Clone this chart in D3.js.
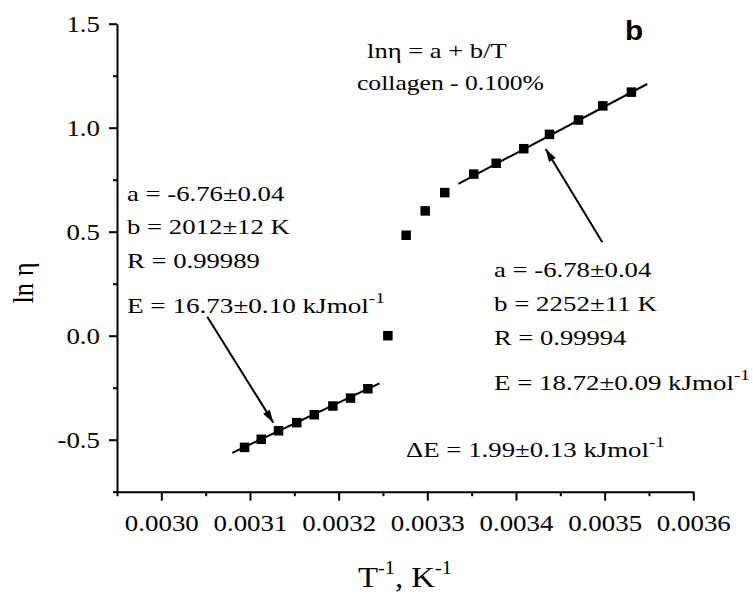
<!DOCTYPE html>
<html><head><meta charset="utf-8">
<script src="https://cdn.jsdelivr.net/npm/d3@7"></script>
<style>html,body{margin:0;padding:0;background:#fff;}svg{display:block;}</style>
</head><body><svg id="c" width="753" height="595"></svg>
<script>
// ---- data ----
const lowX  = [0.0030939, 0.0031127, 0.0031322, 0.0031528, 0.0031725, 0.0031935, 0.0032134, 0.0032329];
const lowY  = [-0.537, -0.498, -0.457, -0.418, -0.380, -0.338, -0.300, -0.255];
const midX  = [0.0032555, 0.0032761, 0.0032976, 0.0033197];
const midY  = [0.000, 0.483, 0.600, 0.688];
const highX = [0.0033524, 0.0033777, 0.0034088, 0.0034378, 0.0034705, 0.0034979, 0.0035302];
const highY = [0.777, 0.829, 0.899, 0.968, 1.037, 1.105, 1.171];
const fitLow  = {a: -6.76, b: 2012, x0: 0.00308, x1: 0.003246};
const fitHigh = {a: -6.78, b: 2252, x0: 0.003335, x1: 0.003548};
const xTicks = [0.0030, 0.0031, 0.0032, 0.0033, 0.0034, 0.0035, 0.0036];
const xTickLabels = ["0.0030", "0.0031", "0.0032", "0.0033", "0.0034", "0.0035", "0.0036"];
const yTicks = [-0.5, 0.0, 0.5, 1.0, 1.5];
const yTickLabels = ["-0.5", "0.0", "0.5", "1.0", "1.5"];
const arrowLow  = {x0: 0.0030518, y0: 0.091, x1: 0.0031263, y1: -0.418};
const arrowHigh = {x0: 0.0034974, y0: 0.449, x1: 0.0034335, y1: 0.898};

const svg = d3.select("#c");
const serif = "'Liberation Serif', Times, serif";
const x = d3.scaleLinear().domain([0.00295, 0.0036]).range([117, 693.3]);
const y = d3.scaleLinear().domain([-0.75, 1.5]).range([491.7, 23.7]);

// axes
const xMinor = d3.range(0, 14).map(i => 0.00295 + i * 0.00005).filter(v => !xTicks.some(t => Math.abs(t - v) < 1e-9));
const yMinor = d3.range(0, 10).map(i => -0.75 + i * 0.25).filter(v => !yTicks.some(t => Math.abs(t - v) < 1e-9));

const gx = svg.append("g").attr("transform", `translate(0,${y(-0.75)})`)
  .call(d3.axisBottom(x).tickValues(xTicks).tickFormat((d, i) => xTickLabels[i]).tickSize(9).tickSizeOuter(0).tickPadding(13));
const gxm = svg.append("g").attr("transform", `translate(0,${y(-0.75)})`)
  .call(d3.axisBottom(x).tickValues(xMinor).tickFormat("").tickSize(4.5).tickSizeOuter(0));
gxm.select(".domain").remove();
const gy = svg.append("g").attr("transform", `translate(${x(0.00295)},0)`)
  .call(d3.axisLeft(y).tickValues(yTicks).tickFormat((d, i) => yTickLabels[i]).tickSize(8).tickSizeOuter(0).tickPadding(9));
const gym = svg.append("g").attr("transform", `translate(${x(0.00295)},0)`)
  .call(d3.axisLeft(y).tickValues(yMinor).tickFormat("").tickSize(4).tickSizeOuter(0));
gym.select(".domain").remove();
[gx, gxm, gy, gym].forEach(g => {
  g.attr("font-family", serif);
  g.selectAll(".domain").attr("stroke", "#000").attr("stroke-width", 2);
  g.selectAll(".tick line").attr("stroke", "#000").attr("stroke-width", 2);
});
gx.selectAll(".tick text").attr("font-family", serif).attr("font-size", 24).attr("fill", "#000");
gy.selectAll(".tick text").attr("font-family", serif).attr("font-size", 24).attr("fill", "#000");
// horizontal stretch of tick labels so "0.0030" is ~74px wide, as in the reference
const w0 = gx.select(".tick text").node().getComputedTextLength();
const tsx = 74 / w0;
gx.selectAll(".tick text").attr("transform", `scale(${tsx},1)`);
gy.selectAll(".tick text").each(function(){
  const t = d3.select(this); const xx = +t.attr("x");
  t.attr("transform", `translate(${xx},0) scale(${tsx},1) translate(${-xx},0)`);
});

// fit lines
const line = d3.line().x(d => x(d[0])).y(d => y(d[1]));
[fitLow, fitHigh].forEach(f => {
  svg.append("path").datum([[f.x0, f.a + f.b * f.x0], [f.x1, f.a + f.b * f.x1]])
    .attr("d", line).attr("stroke", "#000").attr("stroke-width", 2).attr("fill", "none");
});

// points
const pts = [];
[[lowX, lowY], [midX, midY], [highX, highY]].forEach(([xs, ys]) => xs.forEach((v, i) => pts.push([v, ys[i]])));
const s = 9.5;
svg.append("g").selectAll("rect").data(pts).join("rect")
  .attr("x", d => x(d[0]) - s / 2).attr("y", d => y(d[1]) - s / 2)
  .attr("width", s).attr("height", s).attr("fill", "#000");

// arrows
svg.append("defs").append("marker").attr("id", "ah").attr("viewBox", "0 0 13 8")
  .attr("refX", 13).attr("refY", 4).attr("markerWidth", 13).attr("markerHeight", 8)
  .attr("markerUnits", "userSpaceOnUse").attr("orient", "auto")
  .append("path").attr("d", "M0,0 L13,4 L0,8 Z").attr("fill", "#000");
[arrowLow, arrowHigh].forEach(a => {
  svg.append("line").attr("x1", x(a.x0)).attr("y1", y(a.y0)).attr("x2", x(a.x1)).attr("y2", y(a.y1))
    .attr("stroke", "#000").attr("stroke-width", 2).attr("marker-end", "url(#ah)");
});

// text helper: serif text stretched horizontally to the width it has in the reference
function txt(tx, ty, parts, size, width) {
  const t = svg.append("text").attr("transform", `translate(${tx},${ty})`)
    .attr("font-family", serif).attr("font-size", size).attr("fill", "#000");
  parts.forEach(p => {
    if (typeof p === "string") t.append("tspan").text(p);
    else t.append("tspan").attr("font-size", p.size).attr("dy", p.dy).text(p.t);
  });
  const w = t.node().getBBox().width;
  t.attr("transform", `translate(${tx},${ty}) scale(${width / w},1)`);
  return t;
}
const sup = (t) => ({t, size: 15, dy: -10});

txt(367, 58, ["lnη = a + b/T"], 21, 140);
txt(357, 90, ["collagen - 0.100%"], 21, 187);

txt(127, 201, ["a = -6.76±0.04"], 21, 158);
txt(127, 234, ["b = 2012±12 K"], 21, 163);
txt(127, 268, ["R = 0.99989"], 21, 133);
txt(127, 313, ["E = 16.73±0.10 kJmol", sup("-1")], 21, 258);

txt(494, 277, ["a = -6.78±0.04"], 21, 158);
txt(494, 311, ["b = 2252±11 K"], 21, 163);
txt(494, 345, ["R = 0.99994"], 21, 133);
txt(494, 390, ["E = 18.72±0.09 kJmol", sup("-1")], 21, 256);
txt(406, 457, ["ΔE = 1.99±0.13 kJmol", sup("-1")], 21, 259);

// axis titles
txt(358, 587, ["T", {t: "-1", size: 18, dy: -13}, {t: ", K", size: 29, dy: 13}, {t: "-1", size: 18, dy: -13}], 29, 94);
svg.append("text").attr("transform", "translate(33,283) rotate(-90) scale(0.88,1)")
  .attr("font-family", serif).attr("font-size", 30).attr("text-anchor", "middle").attr("fill", "#000")
  .text("ln η");

// panel letter
svg.append("text").attr("transform", "translate(625,40) scale(1.1,1)")
  .attr("font-family", "'Liberation Sans',Arial,sans-serif").attr("font-weight", "bold")
  .attr("font-size", 27).attr("fill", "#000").text("b");
</script></body></html>
